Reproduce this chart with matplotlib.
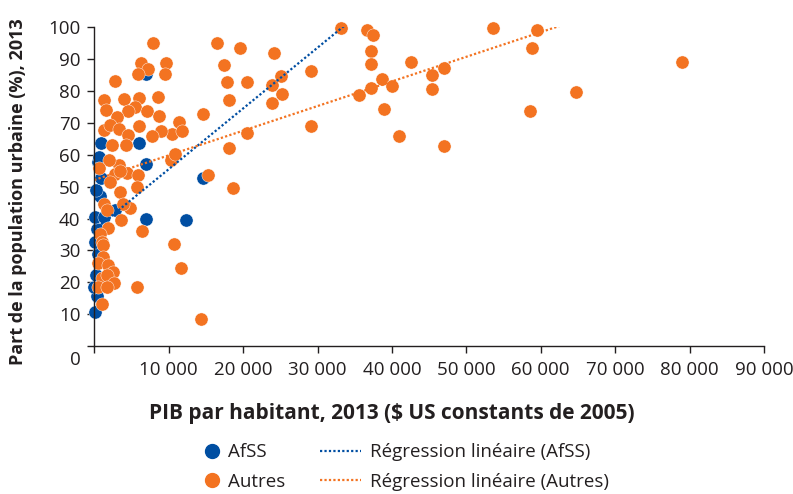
import matplotlib
matplotlib.use("Agg")
import matplotlib.pyplot as plt
import numpy as np
from matplotlib.lines import Line2D

plt.rcParams['font.family'] = ['Open Sans', 'DejaVu Sans']

# AfSS (Sub-Saharan Africa) points: GDP per capita, urban share
afss_x = [100, 400, 0, 190, 450, 100, 320, 100, 1300, 2780, 7000, 12330,
          770, 190, 860, 450, 670, 860, 6050, 6950, 14570, 6950]
afss_y = [10.8, 15.7, 18.4, 22.3, 29.0, 32.7, 36.6, 40.6, 40.5, 42.6, 40.0, 39.5,
          47.1, 49.0, 52.6, 57.8, 59.2, 63.7, 63.7, 57.2, 52.8, 85.4]

# Other countries
autres_x = [7850, 6280, 7180, 5920, 9640, 9500, 2780, 1300, 1570, 4030, 6050, 8520,
            5470, 4570, 7040, 3090, 8700, 6050, 1300, 2110, 3280, 4490, 11390, 10400,
            8920, 7710, 11850, 14570, 16490, 19580, 24150, 17430, 17880, 20520, 18150,
            23890, 25050, 25190, 23880, 29170, 29170, 20520, 18150, 15240, 18680, 11600,
            14390, 10730, 33200, 36700, 37400, 37200, 37200, 42570, 53630, 59460, 58790,
            38670, 37190, 40010, 35580, 45350, 46960, 45430, 38900, 64750, 58500, 40950,
            46960, 79000,
            2340, 4220, 3360, 2020, 630, 10310, 10850, 4350, 5920, 2850, 3450, 2110,
            3450, 5700, 1300, 1670, 4800, 3900, 3590, 6370, 1880, 770, 990, 1210, 1210,
            450, 1880, 2550, 990, 1670, 2690, 540, 1670, 5700, 1080]
autres_y = [95.0, 88.8, 87.0, 85.3, 88.8, 85.5, 83.1, 77.1, 74.0, 77.6, 77.8, 78.2,
            75.0, 73.8, 73.8, 71.9, 72.3, 69.0, 67.9, 69.3, 68.1, 66.1, 70.3, 66.4,
            67.5, 65.8, 67.6, 72.9, 95.0, 93.5, 91.9, 88.3, 82.7, 82.7, 77.2,
            81.8, 84.6, 79.2, 76.2, 86.3, 69.0, 66.9, 62.0, 53.6, 49.6, 24.5,
            8.4, 32.0, 99.7, 99.3, 97.7, 92.6, 88.4, 89.2, 99.7, 99.2, 93.6,
            83.7, 81.0, 81.7, 78.9, 85.0, 87.1, 80.8, 74.4, 79.8, 73.7, 65.8,
            62.8, 89.2,
            63.0, 63.0, 56.7, 58.5, 55.9, 58.3, 60.4, 54.3, 53.8, 54.0, 55.0, 51.5,
            48.4, 49.9, 44.5, 42.6, 43.2, 44.7, 39.5, 36.1, 36.9, 35.0, 32.7, 31.7, 28.0,
            25.9, 25.4, 23.3, 21.2, 22.3, 19.7, 18.4, 18.6, 18.4, 13.2]

# Linear regression coefficients
reg_afss = (0.001907, 36.4)
reg_autres = (0.000773, 52.1)

x_ticks = [0, 10000, 20000, 30000, 40000, 50000, 60000, 70000, 80000, 90000]
x_ticklabels = ["", "10 000", "20 000", "30 000", "40 000", "50 000",
                "60 000", "70 000", "80 000", "90 000"]
y_ticks = [0, 10, 20, 30, 40, 50, 60, 70, 80, 90, 100]
y_ticklabels = ["", "10", "20", "30", "40", "50", "60", "70", "80", "90", "100"]

BLUE = "#004EA2"
ORANGE = "#F37321"
TXT = "#231f20"

fig = plt.figure(figsize=(7.93, 4.94), dpi=100)
ax = fig.add_axes([0.1189, 0.2996, 0.9634 - 0.1189, 0.9447 - 0.2996])

ax.scatter(afss_x, afss_y, s=90, color=BLUE, edgecolor="white", linewidth=0.3,
           clip_on=False, zorder=2)
ax.scatter(autres_x, autres_y, s=90, color=ORANGE, edgecolor="white", linewidth=0.3,
           clip_on=False, zorder=2)

xs = np.array([0, 90000])
ax.plot(xs, reg_afss[0] * xs + reg_afss[1], color=BLUE, lw=1.6,
        linestyle=(0, (1, 1)), zorder=3)
ax.plot(xs, reg_autres[0] * xs + reg_autres[1], color=ORANGE, lw=1.6,
        linestyle=(0, (1, 1)), zorder=3)

ax.set_xlim(0, 90000)
ax.set_ylim(0, 100)
ax.set_xticks(x_ticks)
ax.set_xticklabels(x_ticklabels)
ax.set_yticks(y_ticks)
ax.set_yticklabels(y_ticklabels)
ax.spines['top'].set_visible(False)
ax.spines['right'].set_visible(False)
for s in ['left', 'bottom']:
    ax.spines[s].set_color(TXT)
    ax.spines[s].set_linewidth(1.0)
    ax.spines[s].set_zorder(4)
ax.tick_params(axis='both', colors=TXT, labelsize=13.5, length=5, width=1.0)
ax.tick_params(axis='y', pad=5)
ax.tick_params(axis='x', pad=6)

# origin label sits slightly below-left of the corner
ax.annotate("0", xy=(0, 0), xycoords='axes fraction', xytext=(-10, -10),
            textcoords='offset points', ha='right', va='center', fontsize=13.5, color=TXT)

ax.set_xlabel("PIB par habitant, 2013 ($ US constants de 2005)", fontsize=15,
              fontweight='bold', color=TXT)
ax.set_ylabel("Part de la population urbaine (%), 2013", fontsize=13,
              fontweight='bold', color=TXT)
ax.xaxis.set_label_coords(0.4445, -0.178)
ax.yaxis.set_label_coords(-0.1, 0.485)

marker_handles = [
    Line2D([], [], marker='o', linestyle='none', color=BLUE, markersize=10),
    Line2D([], [], marker='o', linestyle='none', color=ORANGE, markersize=10),
]
line_handles = [
    Line2D([], [], color=BLUE, lw=1.6, linestyle=(0, (1, 1))),
    Line2D([], [], color=ORANGE, lw=1.6, linestyle=(0, (1, 1))),
]
leg1 = fig.legend(marker_handles, ["AfSS", "Autres"], loc='center left',
                  bbox_to_anchor=(0.258, 0.0547), frameon=False, fontsize=13.5,
                  handlelength=0.8, handletextpad=0.45, labelspacing=0.62,
                  borderpad=0, borderaxespad=0)
leg2 = fig.legend(line_handles, ["Régression linéaire (AfSS)", "Régression linéaire (Autres)"],
                  loc='center left', bbox_to_anchor=(0.4035, 0.0547), frameon=False,
                  fontsize=13.5, handlelength=2.2, handletextpad=0.45, labelspacing=0.62,
                  borderpad=0, borderaxespad=0)
for lg in (leg1, leg2):
    for t in lg.get_texts():
        t.set_color(TXT)

fig.savefig("out.png", dpi=100)
